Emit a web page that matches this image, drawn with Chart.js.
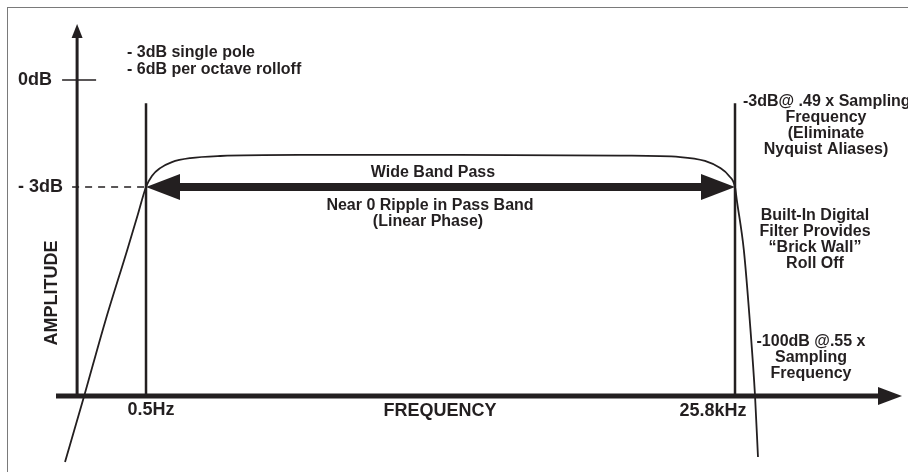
<!DOCTYPE html>
<html>
<head>
<meta charset="utf-8">
<title>Wide Band Pass</title>
<script src="https://cdn.jsdelivr.net/npm/chart.js@4.4.1/dist/chart.umd.min.js"></script>
<style>
  html, body { margin: 0; padding: 0; background: #fff; }
  #wrap { width: 908px; height: 472px; position: relative; }
</style>
</head>
<body>
<div id="wrap"><canvas id="myChart"></canvas></div>
<script>
// frequency in relative units: 0 = 0.5Hz corner, 100 = 25.8kHz corner
// amplitude in schematic dB (0 = 0dB tick, -3 = -3dB line)
const freq = [-13.75, -10.5, -7.0, -3.2, -1.4, 0, 1.0, 2.4, 4.4, 7.5, 12.6, 26, 52, 80.5, 90.7, 94.9, 97.5, 99.0, 100, 100.3, 101.5, 102.5, 103.4, 103.9];
const amplitude = [-10.71, -8.86, -6.81, -4.77, -3.78, -3.0, -2.69, -2.47, -2.30, -2.19, -2.13, -2.10, -2.10, -2.12, -2.16, -2.27, -2.47, -2.69, -3.0, -3.36, -4.77, -6.73, -8.86, -10.57];

const cornerFreqs = [0, 100];
const cornerLabels = ['0.5Hz', '25.8kHz'];
const levelValues = [0, -3];
const levelLabels = ['0dB', '- 3dB'];

const axisLevel = -8.86;   // where the frequency axis sits
const axisFreq = -11.7;    // where the amplitude axis sits
const cornerTop = -0.65;   // top of the corner markers

const ctx = document.getElementById('myChart');
const ink = '#231f20';
const FONT = '"Liberation Sans", Arial, sans-serif';

function arrowHead(c, tipX, tipY, dx, dy, len, half) {
  // dx,dy unit direction of arrow
  const bx = tipX - dx * len, by = tipY - dy * len;
  c.beginPath();
  c.moveTo(tipX, tipY);
  c.lineTo(bx - dy * half, by + dx * half);
  c.lineTo(bx + dy * half, by - dx * half);
  c.closePath();
  c.fill();
}

function lines(c, arr, x, y0, step) {
  arr.forEach((t, i) => c.fillText(t, x, y0 + i * step));
}

const diagram = {
  id: 'diagram',
  afterDatasetsDraw(chart) {
    const c = chart.ctx;
    const xs = chart.scales.x, ys = chart.scales.y;
    const px = v => xs.getPixelForValue(v);
    const py = v => ys.getPixelForValue(v);
    c.save();

    // frame
    c.strokeStyle = '#7a7a7a';
    c.lineWidth = 1;
    c.strokeRect(7.5, 7.5, 960, 520);

    c.strokeStyle = ink;
    c.fillStyle = ink;

    // amplitude axis
    const ax = px(axisFreq), ay = py(axisLevel);
    c.lineWidth = 3;
    c.beginPath(); c.moveTo(ax, ay); c.lineTo(ax, 36); c.stroke();
    arrowHead(c, ax, 24, 0, -1, 14, 5.5);

    // frequency axis
    c.lineWidth = 5;
    c.beginPath(); c.moveTo(56, ay); c.lineTo(882, ay); c.stroke();
    arrowHead(c, 902, ay, 1, 0, 24, 9);

    // corner markers
    c.lineWidth = 2.5;
    cornerFreqs.forEach(f => {
      c.beginPath(); c.moveTo(px(f), py(cornerTop)); c.lineTo(px(f), ay); c.stroke();
    });

    // 0dB tick
    c.lineWidth = 1.5;
    c.beginPath(); c.moveTo(ax - 15, py(levelValues[0])); c.lineTo(ax + 19, py(levelValues[0])); c.stroke();
    // -3dB dashed level
    c.setLineDash([7, 6]);
    c.beginPath(); c.moveTo(ax - 5, py(levelValues[1])); c.lineTo(px(cornerFreqs[0]), py(levelValues[1])); c.stroke();
    c.setLineDash([]);

    // double arrow across the pass band
    const l = px(cornerFreqs[0]), r = px(cornerFreqs[1]), my = py(-3);
    c.lineWidth = 8;
    c.beginPath(); c.moveTo(l + 30, my); c.lineTo(r - 30, my); c.stroke();
    arrowHead(c, l, my, -1, 0, 34, 13);
    arrowHead(c, r, my, 1, 0, 34, 13);

    // axis labels
    c.textBaseline = 'middle';
    c.font = 'bold 18px ' + FONT;
    c.textAlign = 'right';
    c.fillText(levelLabels[0], 52, py(levelValues[0]));
    c.fillText(levelLabels[1], 63, py(levelValues[1]));
    c.textAlign = 'center';
    c.fillText(cornerLabels[0], px(cornerFreqs[0]) + 5, 410);
    c.fillText(cornerLabels[1], px(cornerFreqs[1]) - 22, 411);
    c.fillText('FREQUENCY', 440, 411);
    c.save();
    c.translate(52, 293);
    c.rotate(-Math.PI / 2);
    c.fillText('AMPLITUDE', 0, 0);
    c.restore();

    // notes
    c.font = 'bold 16px ' + FONT;
    c.textAlign = 'left';
    lines(c, ['- 3dB single pole', '- 6dB per octave rolloff'], 127, 53, 17);
    c.fillText('-3dB@ .49 x Sampling', 743, 102);
    c.textAlign = 'center';
    lines(c, ['Frequency', '(Eliminate', 'Nyquist Aliases)'], 826, 118, 16);
    lines(c, ['Built-In Digital', 'Filter Provides', '\u201cBrick Wall\u201d', 'Roll Off'], 815, 216, 16);
    lines(c, ['-100dB @.55 x', 'Sampling', 'Frequency'], 811, 342, 16);
    c.fillText('Wide Band Pass', 433, 173);
    c.fillText('Near 0 Ripple in Pass Band', 430, 206);
    c.fillText('(Linear Phase)', 428, 222);

    c.restore();
  }
};

new Chart(ctx, {
  type: 'line',
  data: {
    datasets: [{
      data: freq.map((f, i) => ({ x: f, y: amplitude[i] })),
      borderColor: ink,
      borderWidth: 1.8,
      pointRadius: 0,
      fill: false,
      cubicInterpolationMode: 'monotone'
    }]
  },
  options: {
    responsive: true,
    maintainAspectRatio: false,
    animation: false,
    layout: { padding: 0 },
    plugins: { legend: { display: false }, tooltip: { enabled: false } },
    scales: {
      x: { type: 'linear', display: false, min: -24.79, max: 129.37 },
      y: { type: 'linear', display: false, min: -10.99, max: 2.243 }
    }
  },
  plugins: [diagram]
});
</script>
</body>
</html>
